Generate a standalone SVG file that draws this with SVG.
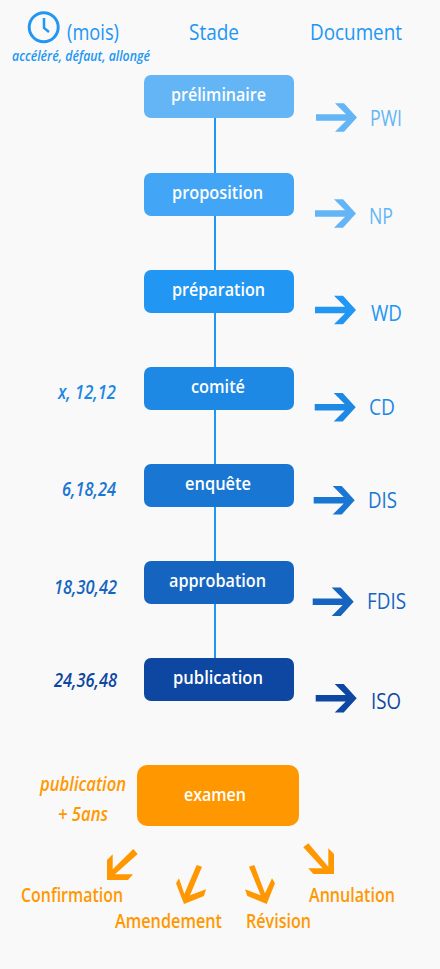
<svg xmlns="http://www.w3.org/2000/svg" width="440" height="969" viewBox="0 0 440 969">
<style>
text{font-family:"Open Sans","Noto Sans","Liberation Sans",sans-serif}
.h{font-size:22px;font-weight:500;fill:#2196f3}
.s{font-size:18px;font-weight:600;fill:#fff}
.d{font-size:22px;font-weight:500}
.m{font-size:19px;font-style:italic;font-weight:600}
.o{fill:#ff9800}
.l{font-size:19px;font-weight:600;fill:#ff9800}
.e{font-size:19px;font-style:italic;font-weight:600;fill:#ff9800}
.link{stroke:#2196f3;stroke-width:2;fill:none}
</style>
<defs>
<path id="arr" d="M-41,-3.3H-11L-22,-14.3H-13L0,0L-13,14.3H-22L-11,3.3H-41Z"/>
</defs>
<rect width="440" height="969" fill="#f9f9f9"/>
<g id="connectors">
<path class="link" d="M215,118V173M215,216V270M215,313V367M215,410V464M215,507V561M215,604V658"/>
</g>
<g id="header">
<circle cx="43.7" cy="27.3" r="14.5" fill="none" stroke="#2196f3" stroke-width="3"/>
<path d="M44,18V28L49,32" fill="none" stroke="#2196f3" stroke-width="2.5"/>
<text class="h" x="67" y="40" textLength="52" lengthAdjust="spacingAndGlyphs">(mois)</text>
<text class="h" x="189" y="40" textLength="50" lengthAdjust="spacingAndGlyphs">Stade</text>
<text class="h" x="310" y="40" textLength="92" lengthAdjust="spacingAndGlyphs">Document</text>
<text x="12" y="61" font-size="15" font-style="italic" font-weight="600" fill="#2196f3" textLength="138" lengthAdjust="spacingAndGlyphs">accéléré, défaut, allongé</text>
</g>
<g id="n-preliminaire">
<rect x="144" y="75" width="150" height="43" rx="7" fill="#64b5f6"/>
<text class="s" x="171" y="100.5" textLength="95" lengthAdjust="spacingAndGlyphs">préliminaire</text>
<use href="#arr" x="357" y="117.5" fill="#64b5f6"/>
<text class="d" x="370" y="126" fill="#64b5f6" textLength="32" lengthAdjust="spacingAndGlyphs">PWI</text>
</g>
<g id="n-proposition">
<rect x="144" y="173" width="150" height="43" rx="7" fill="#42a5f5"/>
<text class="s" x="172" y="198.5" textLength="91" lengthAdjust="spacingAndGlyphs">proposition</text>
<use href="#arr" x="356" y="213.5" fill="#64b5f6"/>
<text class="d" x="369" y="224" fill="#64b5f6" textLength="24" lengthAdjust="spacingAndGlyphs">NP</text>
</g>
<g id="n-preparation">
<rect x="144" y="270" width="150" height="43" rx="7" fill="#2196f3"/>
<text class="s" x="172" y="295.5" textLength="93" lengthAdjust="spacingAndGlyphs">préparation</text>
<use href="#arr" x="356" y="310" fill="#2196f3"/>
<text class="d" x="371" y="321" fill="#2196f3" textLength="31" lengthAdjust="spacingAndGlyphs">WD</text>
</g>
<g id="n-comite">
<rect x="144" y="367" width="150" height="43" rx="7" fill="#1e88e5"/>
<text class="s" x="191" y="392.5" textLength="54" lengthAdjust="spacingAndGlyphs">comité</text>
<text class="m" x="58" y="399" fill="#1e88e5" textLength="58" lengthAdjust="spacingAndGlyphs">x, 12,12</text>
<use href="#arr" x="355.7" y="407.3" fill="#1e88e5"/>
<text class="d" x="369" y="414.5" fill="#1e88e5" textLength="26" lengthAdjust="spacingAndGlyphs">CD</text>
</g>
<g id="n-enquete">
<rect x="144" y="464" width="150" height="43" rx="7" fill="#1976d2"/>
<text class="s" x="185" y="489.5" textLength="66" lengthAdjust="spacingAndGlyphs">enquête</text>
<text class="m" x="62" y="496" fill="#1976d2" textLength="54" lengthAdjust="spacingAndGlyphs">6,18,24</text>
<use href="#arr" x="354.7" y="500.3" fill="#1976d2"/>
<text class="d" x="368" y="507.5" fill="#1976d2" textLength="29" lengthAdjust="spacingAndGlyphs">DIS</text>
</g>
<g id="n-approbation">
<rect x="144" y="561" width="150" height="43" rx="7" fill="#1565c0"/>
<text class="s" x="169" y="586.5" textLength="97" lengthAdjust="spacingAndGlyphs">approbation</text>
<text class="m" x="54" y="594" fill="#1565c0" textLength="63" lengthAdjust="spacingAndGlyphs">18,30,42</text>
<use href="#arr" x="353.7" y="601.7" fill="#1565c0"/>
<text class="d" x="367" y="609" fill="#1565c0" textLength="39" lengthAdjust="spacingAndGlyphs">FDIS</text>
</g>
<g id="n-publication">
<rect x="144" y="658" width="150" height="43" rx="7" fill="#0d47a1"/>
<text class="s" x="173" y="683.5" textLength="90" lengthAdjust="spacingAndGlyphs">publication</text>
<text class="m" x="54" y="687" fill="#0d47a1" textLength="63" lengthAdjust="spacingAndGlyphs">24,36,48</text>
<use href="#arr" x="356.7" y="698.3" fill="#0d47a1"/>
<text class="d" x="371" y="709" fill="#0d47a1" textLength="30" lengthAdjust="spacingAndGlyphs">ISO</text>
</g>
<g id="n-examen">
<rect x="137" y="765" width="162" height="61" rx="10" fill="#ff9800"/>
<text class="s" x="184" y="801" textLength="62" lengthAdjust="spacingAndGlyphs">examen</text>
<text class="e" x="40" y="791" textLength="86" lengthAdjust="spacingAndGlyphs">publication</text>
<text class="e" x="58" y="821" textLength="50" lengthAdjust="spacingAndGlyphs">+ 5ans</text>
</g>
<g id="n-confirmation">
<polygon class="o" points="107,880 128,880 133,874.3 115,874.3 137.7,854 133.3,849 112.7,869.3 112.7,854.3 107,860"/>
<text class="l" x="21" y="902" textLength="102" lengthAdjust="spacingAndGlyphs">Confirmation</text>
</g>
<g id="n-amendement">
<polygon class="o" points="184,904 204,896 206,889.3 190,895.3 202,866.7 196.7,865 184.3,894 179,878.3 176,883.3"/>
<text class="l" x="115" y="928" textLength="107" lengthAdjust="spacingAndGlyphs">Amendement</text>
</g>
<g id="n-revision">
<polygon class="o" points="266.7,904 275,883.3 272,878.3 265,893.3 254.3,865 249,866.7 260.7,895.3 245,889.3 247.3,896"/>
<text class="l" x="246" y="928" textLength="65" lengthAdjust="spacingAndGlyphs">Révision</text>
</g>
<g id="n-annulation">
<polygon class="o" points="334,874 334,854 328.3,848.3 328.3,866.7 308.3,843.3 303.3,847.3 322.7,868.3 308.3,868.3 313.3,874"/>
<text class="l" x="309" y="902" textLength="86" lengthAdjust="spacingAndGlyphs">Annulation</text>
</g>
</svg>
